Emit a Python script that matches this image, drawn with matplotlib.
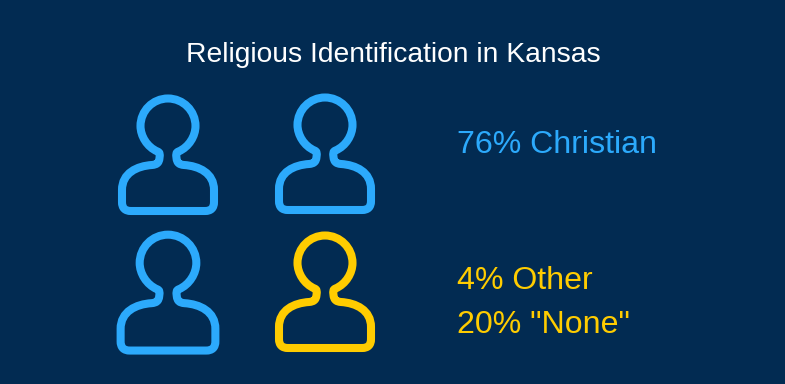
import matplotlib as mpl
mpl.use("Agg")
import matplotlib.pyplot as plt
from matplotlib.path import Path
from matplotlib.patches import PathPatch

plt.rcParams['font.family'] = ['Liberation Sans', 'DejaVu Sans']

BG = '#022b52'
BLUE = '#2caafc'
YELLOW = '#ffcc00'

title = 'Religious Identification in Kansas'

# one icon is about a quarter of the population
icon_colors = [BLUE, BLUE, BLUE, YELLOW]
icon_x = [168, 325, 168, 325]
icon_y = [126, 125, 263, 263]
icon_scale = [1.0, 1.0, 1.03, 1.0]

labels = ['76% Christian', '4% Other', '20% "None"']
label_colors = [BLUE, YELLOW, YELLOW]
label_y = [145, 281, 325]

# person outline around the head centre, in pixels (y down)
k = 0.5523
r = 27.5
person = [
    (Path.MOVETO, (-10.5, 25.5)),
    # head, clockwise from lower left over the top
    (Path.CURVE4, (-21, 21)), (Path.CURVE4, (-r, 10)), (Path.CURVE4, (-r, 0)),
    (Path.CURVE4, (-r, -k * r)), (Path.CURVE4, (-k * r, -r)), (Path.CURVE4, (0, -r)),
    (Path.CURVE4, (k * r, -r)), (Path.CURVE4, (r, -k * r)), (Path.CURVE4, (r, 0)),
    (Path.CURVE4, (r, 10)), (Path.CURVE4, (21, 21)), (Path.CURVE4, (10.5, 25.5)),
    # neck right
    (Path.CURVE4, (8, 26.5)), (Path.CURVE4, (8, 28)), (Path.CURVE4, (8.5, 32)),
    (Path.CURVE4, (9, 37)), (Path.CURVE4, (11, 38.5)), (Path.CURVE4, (16, 39)),
    # right shoulder
    (Path.CURVE4, (31, 40)), (Path.CURVE4, (46, 47)), (Path.CURVE4, (46, 64)),
    (Path.LINETO, (46, 76)),
    (Path.CURVE4, (46, 82)), (Path.CURVE4, (43, 85)), (Path.CURVE4, (37, 85)),
    # bottom
    (Path.LINETO, (-37, 85)),
    (Path.CURVE4, (-43, 85)), (Path.CURVE4, (-46, 82)), (Path.CURVE4, (-46, 76)),
    (Path.LINETO, (-46, 64)),
    # left shoulder
    (Path.CURVE4, (-46, 47)), (Path.CURVE4, (-31, 40)), (Path.CURVE4, (-16, 39)),
    # neck left
    (Path.CURVE4, (-11, 38.5)), (Path.CURVE4, (-9, 37)), (Path.CURVE4, (-8.5, 32)),
    (Path.CURVE4, (-8, 28)), (Path.CURVE4, (-8, 26.5)), (Path.CURVE4, (-10.5, 25.5)),
    (Path.CLOSEPOLY, (-10.5, 25.5)),
]
codes = [c for c, _ in person]
verts = [v for _, v in person]

fig = plt.figure(figsize=(7.85, 3.84), dpi=100, facecolor=BG)
ax = fig.add_axes([0, 0, 1, 1])
ax.set_xlim(0, 785)
ax.set_ylim(384, 0)
ax.axis('off')

ax.text(393.5, 55, title, color='white', fontsize=20.3, ha='center', va='center')

for x, y, s, c in zip(icon_x, icon_y, icon_scale, icon_colors):
    moved = [(x + s * vx, y + s * vy) for vx, vy in verts]
    ax.add_patch(PathPatch(Path(moved, codes), fill=False, edgecolor=c,
                           lw=5.8, joinstyle='round'))

for lab, c, y in zip(labels, label_colors, label_y):
    ax.text(457, y, lab, color=c, fontsize=23.1, ha='left', va='center')

fig.savefig('out.png', dpi=100, facecolor=BG)
